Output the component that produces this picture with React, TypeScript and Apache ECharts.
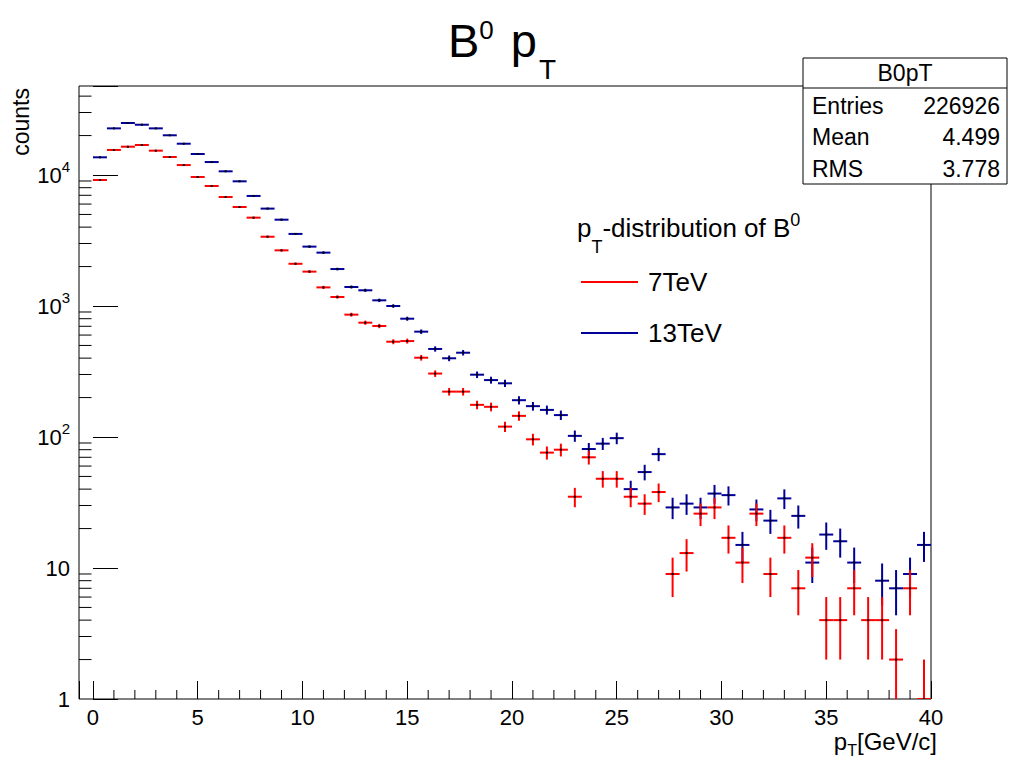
import React, { useEffect, useRef } from "react";
import * as echarts from "echarts";

const FONT = "'Liberation Sans', Arial, Helvetica, sans-serif";

// Histogram binning: bins of 2/3 GeV/c, frame from -2/3 to 40
const binWidth = 2 / 3;
const xRange = [-2 / 3, 40];
const yRange = [1, 47800];

// Counts per bin (bins start at pT = 0)
const counts7TeV = [
  9160, 15530, 16450, 16950, 15340, 13720, 11910, 9660, 8240, 6790,
  5700, 4725, 3380, 2660, 2100, 1830, 1387, 1172, 859, 746,
  704, 534, 540, 403, 305, 222, 222, 176, 170, 120,
  145, 96, 76, 80, 35, 70, 48, 48, 35, 31,
  38, 9, 13, 26, 29, 17, 11, 26, 9, 17,
  7, 12, 4, 4, 7, 4, 4, 2, 7, 1,
];
const counts13TeV = [
  13650, 22700, 24950, 24200, 22700, 20100, 17330, 14460, 12560, 10670,
  8950, 6920, 5540, 4560, 3550, 2840, 2555, 1915, 1397, 1318,
  1105, 1000, 800, 637, 470, 399, 440, 299, 272, 257,
  191, 172, 161, 147, 102, 81, 89, 98, 40, 54,
  74, 29, 31, 29, 37, 36, 15, 28, 23, 34,
  25, 11, 18, 16, 11, 0, 8, 7, 9, 15,
];

const seriesNames = ["7TeV", "13TeV"];
const seriesColors = ["#ff0000", "#000099"];

const statsTitle = "B0pT";
const statsLabels = ["Entries", "Mean", "RMS"];
const statsValues = ["226926", "4.499", "3.778"];

// minor tick positions
const xMinorTicks: number[] = [];
for (let v = 1; v < 40; v++) if (v % 5 !== 0) xMinorTicks.push(v);
const yMinorTicks: number[] = [];
for (let d = 1; d <= 10000; d *= 10)
  for (let k = 2; k <= 9; k++) if (k * d < yRange[1]) yMinorTicks.push(k * d);

function toData(counts: number[]) {
  const out: number[][] = [];
  counts.forEach((c, i) => {
    if (c > 0) out.push([(i + 0.5) * binWidth, c]);
  });
  return out;
}

function errorBarSeries(name: string, color: string, counts: number[]) {
  return {
    type: "custom",
    name,
    itemStyle: { color },
    clip: true,
    silent: true,
    data: toData(counts),
    renderItem: (params: any, api: any) => {
      const x = api.value(0);
      const y = api.value(1);
      if (!(y > 0)) return null;
      const e = Math.sqrt(y);
      const lo = Math.max(y - e, yRange[0]);
      const hi = Math.min(y + e, yRange[1]);
      const pL = api.coord([x - binWidth / 2, y]);
      const pR = api.coord([x + binWidth / 2, y]);
      const pT = api.coord([x, hi]);
      const pB = api.coord([x, lo]);
      const pC = api.coord([x, y]);
      return {
        type: "group",
        children: [
          {
            type: "line",
            shape: { x1: pL[0], y1: pL[1], x2: pR[0], y2: pR[1] },
            style: { stroke: color, lineWidth: 2 },
          },
          {
            type: "line",
            shape: { x1: pT[0], y1: pT[1], x2: pB[0], y2: pB[1] },
            style: { stroke: color, lineWidth: 2 },
          },
          {
            type: "rect",
            shape: { x: pC[0] - 1, y: pC[1] - 1, width: 2, height: 2 },
            style: { fill: "#000" },
          },
        ],
      };
    },
  };
}

function textEl(text: string, x: number, y: number, size: number, align: string, extra: any = {}) {
  return {
    type: "text",
    x,
    y,
    style: {
      text,
      fontSize: size,
      fontFamily: FONT,
      fill: "#000",
      align,
      textAlign: align,
      verticalAlign: "middle",
      textVerticalAlign: "middle",
      ...extra,
    },
  };
}

export default function App() {
  const ref = useRef<HTMLDivElement>(null);

  useEffect(() => {
    if (!ref.current) return;
    const chart = echarts.init(ref.current, null, { renderer: "svg" });

    const statsChildren: any[] = [
      {
        type: "rect",
        shape: { x: 803, y: 58, width: 204, height: 126 },
        style: { fill: "#fff", stroke: "#000", lineWidth: 1 },
      },
      {
        type: "line",
        shape: { x1: 803, y1: 88, x2: 1007, y2: 88 },
        style: { stroke: "#000", lineWidth: 1 },
      },
      textEl(statsTitle, 905, 73, 23, "center"),
    ];
    const rowY = [106, 137, 169];
    statsLabels.forEach((l, i) => {
      statsChildren.push(textEl(l, 812, rowY[i], 23, "left"));
      statsChildren.push(textEl(statsValues[i], 1000, rowY[i], 23, "right"));
    });

    const titleTok = { fontFamily: FONT, color: "#000", fontWeight: "normal", verticalAlign: "top" };

    const option: any = {
      animation: false,
      backgroundColor: "#fff",
      title: {
        text: "{b|B}{sup|0}{b| p}{sub|T}",
        left: 448,
        top: 17,
        padding: 0,
        textStyle: {
          fontFamily: FONT,
          fontWeight: "normal",
          color: "#000",
          rich: {
            b: { ...titleTok, fontSize: 47, lineHeight: 47 },
            sup: { ...titleTok, fontSize: 26, lineHeight: 26, padding: [0, 4, 0, 0] },
            sub: { ...titleTok, fontSize: 28, padding: [38, 0, 0, 2], lineHeight: 66 },
          },
        },
      },
      legend: {
        data: seriesNames,
        orient: "vertical",
        left: 581,
        top: 269,
        padding: 0,
        itemWidth: 57,
        itemHeight: 2,
        itemGap: 25,
        icon: "rect",
        selectedMode: false,
        textStyle: { fontSize: 26, fontFamily: FONT, color: "#000", lineHeight: 26, padding: [0, 0, 0, 5] },
      },
      grid: {
        left: 79,
        top: 86,
        width: 852,
        height: 613,
        show: true,
        borderColor: "#000",
        borderWidth: 1,
        backgroundColor: "transparent",
      },
      xAxis: {
        type: "value",
        min: xRange[0],
        max: xRange[1],
        splitNumber: 8,
        axisLine: { show: false },
        splitLine: { show: false },
        axisTick: { show: true, inside: true, length: 18, lineStyle: { color: "#000", width: 1 } },
        axisLabel: {
          margin: 7,
          fontSize: 22,
          lineHeight: 22,
          fontFamily: FONT,
          color: "#000",
          formatter: (v: number) => (Math.abs(v / 5 - Math.round(v / 5)) < 1e-6 ? String(Math.round(v)) : ""),
        },
      },
      yAxis: {
        type: "log",
        logBase: 10,
        min: yRange[0],
        max: yRange[1],
        axisLine: { show: false },
        splitLine: { show: false },
        axisTick: { show: true, inside: true, length: 25, lineStyle: { color: "#000", width: 1 } },
        axisLabel: {
          margin: 9,
          fontSize: 22,
          fontFamily: FONT,
          color: "#000",
          formatter: (v: number) => {
            const e = Math.log10(v);
            if (Math.abs(e - Math.round(e)) > 1e-6) return "";
            const n = Math.round(e);
            if (n === 0) return "{b|1}";
            if (n === 1) return "{b|10}";
            return "{b|10}{s|" + n + "}";
          },
          rich: {
            b: { fontSize: 22, fontFamily: FONT, color: "#000", verticalAlign: "top", padding: [9, 0, 9, 0], lineHeight: 40 },
            s: { fontSize: 15, fontFamily: FONT, color: "#000", verticalAlign: "top", padding: [3.5, 0, 0, 0], lineHeight: 19 },
          },
        },
      },
      graphic: [
        {
          type: "group",
          z: 100,
          children: statsChildren,
        },
        {
          type: "text",
          x: 577,
          y: 210.5,
          z: 100,
          style: {
            text: "{a|p}{s|T}{a|-distribution of B}{u|0}",
            fill: "#000",
            align: "left",
            textAlign: "left",
            verticalAlign: "top",
            textVerticalAlign: "top",
            rich: {
              a: { fontSize: 26, fontFamily: FONT, fill: "#000", color: "#000", verticalAlign: "top", padding: [4, 0, 0, 0], lineHeight: 30 },
              s: { fontSize: 18, fontFamily: FONT, fill: "#000", color: "#000", verticalAlign: "top", padding: [27.5, 0, 0, 0], lineHeight: 46 },
              u: { fontSize: 18, fontFamily: FONT, fill: "#000", color: "#000", verticalAlign: "top", padding: [0, 0, 0, 0], lineHeight: 18 },
            },
          },
        },
        {
          type: "text",
          x: 937,
          y: 729,
          z: 100,
          style: {
            text: "{a|p}{s|T}{a|[GeV/c]}",
            fill: "#000",
            align: "right",
            textAlign: "right",
            verticalAlign: "top",
            textVerticalAlign: "top",
            rich: {
              a: { fontSize: 24, fontFamily: FONT, fill: "#000", color: "#000", verticalAlign: "top", lineHeight: 24 },
              s: { fontSize: 16, fontFamily: FONT, fill: "#000", color: "#000", verticalAlign: "top", padding: [13, 0, 0, 0], lineHeight: 29 },
            },
          },
        },
        {
          type: "text",
          x: 21,
          y: 88,
          rotation: Math.PI / 2,
          z: 100,
          style: {
            text: "counts",
            fontSize: 23,
            fontFamily: FONT,
            fill: "#000",
            align: "right",
            textAlign: "right",
            verticalAlign: "middle",
            textVerticalAlign: "middle",
          },
        },
      ],
      series: [
        {
          type: "custom",
          name: "xMinorTicks",
          silent: true,
          data: xMinorTicks.map((v) => [v, yRange[0]]),
          renderItem: (params: any, api: any) => {
            const p = api.coord([api.value(0), yRange[0]]);
            return {
              type: "line",
              shape: { x1: p[0], y1: p[1], x2: p[0], y2: p[1] - 9 },
              style: { stroke: "#000", lineWidth: 1 },
            };
          },
        },
        {
          type: "custom",
          name: "yMinorTicks",
          silent: true,
          data: yMinorTicks.map((v) => [xRange[0], v]),
          renderItem: (params: any, api: any) => {
            const p = api.coord([xRange[0], api.value(1)]);
            return {
              type: "line",
              shape: { x1: p[0], y1: p[1], x2: p[0] + 12.5, y2: p[1] },
              style: { stroke: "#000", lineWidth: 1 },
            };
          },
        },
        errorBarSeries(seriesNames[1], seriesColors[1], counts13TeV),
        errorBarSeries(seriesNames[0], seriesColors[0], counts7TeV),
      ],
    };

    chart.setOption(option);
    return () => chart.dispose();
  }, []);

  return (
    <div
      ref={ref}
      style={{ position: "absolute", left: 0, top: 0, width: 1016, height: 758, background: "#fff" }}
    />
  );
}
